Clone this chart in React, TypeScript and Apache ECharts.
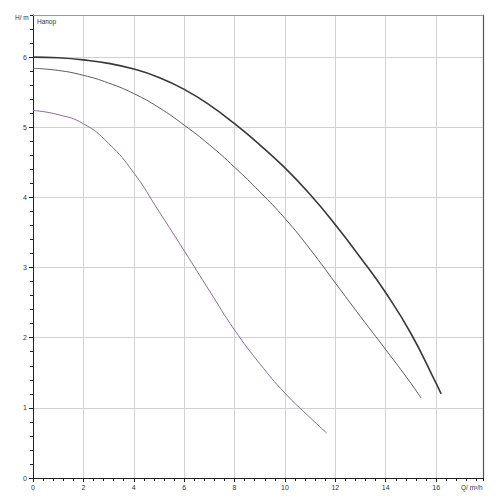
import React, { useEffect, useRef } from "react";
import * as echarts from "echarts";

// Flow Q (m³/h) and head H (m) for the three pump curves
const topQ = [0, 1, 2, 3, 4, 5, 6, 7, 8, 9, 10, 11, 12, 13, 14, 15, 16, 16.2];
const topH = [6.0, 5.99, 5.96, 5.91, 5.83, 5.71, 5.54, 5.32, 5.05, 4.75, 4.42, 4.04, 3.61, 3.14, 2.64, 2.06, 1.35, 1.2];

const midQ = [0, 1, 2, 3, 4, 5, 6, 7, 8, 9, 10, 11, 12, 13, 14, 15, 15.4];
const midH = [5.84, 5.81, 5.74, 5.63, 5.48, 5.28, 5.03, 4.75, 4.43, 4.08, 3.7, 3.26, 2.78, 2.3, 1.83, 1.35, 1.14];

const lowQ = [0, 1, 2, 3, 4, 5, 6, 7, 8, 9, 10, 11, 11.66];
const lowH = [5.24, 5.18, 5.05, 4.77, 4.35, 3.8, 3.24, 2.67, 2.11, 1.63, 1.21, 0.86, 0.64];

const xMin = 0;
const xMax = 17.86;
const yMin = 0;
const yMax = 6.6;

const yTitle = "H/ m";
const curveTitle = "Напор";
const xTitle = "Q/ m³/h";

const pairs = (q: number[], h: number[]) => q.map((v, i) => [v, h[i]]);

export default function App() {
  const ref = useRef<HTMLDivElement>(null);
  useEffect(() => {
    if (!ref.current) return;
    const chart = echarts.init(ref.current, null, { renderer: "svg" });
    const font = "Liberation Sans, Arial, sans-serif";
    const labelStyle = { fontSize: 7, color: "#333", fontFamily: font };
    chart.setOption({
      animation: false,
      backgroundColor: "#fff",
      grid: { left: 33, right: 17, top: 15, bottom: 22, containLabel: false },
      xAxis: [
        {
          type: "value",
          min: xMin,
          max: xMax,
          interval: 2,
          position: "bottom",
          axisLine: { show: true, onZero: false, lineStyle: { color: "#222", width: 1 } },
          axisTick: { show: true, length: 4, lineStyle: { color: "#222" } },
          axisLabel: { ...labelStyle, margin: 6, showMaxLabel: false },
          splitLine: { show: true, lineStyle: { color: "#d2d2d2", width: 1 } },
        },
        {
          type: "value",
          min: xMin,
          max: xMax,
          interval: 0.4,
          position: "bottom",
          axisLine: { show: false },
          axisTick: { show: true, length: 3, lineStyle: { color: "#222" } },
          axisLabel: { show: false },
          splitLine: { show: false },
        },
        {
          type: "value",
          min: xMin,
          max: xMax,
          position: "top",
          axisLine: { show: true, onZero: false, lineStyle: { color: "#9a9a9a", width: 1 } },
          axisTick: { show: false },
          axisLabel: { show: false },
          splitLine: { show: false },
        },
      ],
      yAxis: [
        {
          type: "value",
          min: yMin,
          max: yMax,
          interval: 1,
          position: "left",
          axisLine: { show: true, onZero: false, lineStyle: { color: "#222", width: 1 } },
          axisTick: { show: true, length: 4, lineStyle: { color: "#222" } },
          axisLabel: { ...labelStyle, margin: 6, showMaxLabel: false },
          splitLine: { show: true, lineStyle: { color: "#d2d2d2", width: 1 } },
        },
        {
          type: "value",
          min: yMin,
          max: yMax,
          interval: 0.2,
          position: "left",
          axisLine: { show: false },
          axisTick: { show: true, length: 3, lineStyle: { color: "#222" } },
          axisLabel: { show: false },
          splitLine: { show: false },
        },
        {
          type: "value",
          min: yMin,
          max: yMax,
          position: "right",
          axisLine: { show: true, onZero: false, lineStyle: { color: "#555", width: 1.2 } },
          axisTick: { show: false },
          axisLabel: { show: false },
          splitLine: { show: false },
        },
      ],
      graphic: [
        { type: "text", left: 15, top: 14, style: { text: yTitle, fontSize: 6.5, fill: "#333", fontFamily: font } },
        { type: "text", left: 37, top: 18, style: { text: curveTitle, fontSize: 6.5, fill: "#333", fontFamily: font } },
        { type: "text", left: 461, top: 484, style: { text: xTitle, fontSize: 6.5, fill: "#333", fontFamily: font } },
      ],
      series: [
        {
          type: "line",
          data: pairs(lowQ, lowH),
          smooth: 0.5,
          showSymbol: false,
          lineStyle: { color: "#8a6a96", width: 1 },
          z: 3,
        },
        {
          type: "line",
          data: pairs(midQ, midH),
          smooth: 0.5,
          showSymbol: false,
          lineStyle: { color: "#5e5864", width: 1 },
          z: 4,
        },
        {
          type: "line",
          data: pairs(topQ, topH),
          smooth: 0.5,
          showSymbol: false,
          lineStyle: { color: "#383838", width: 1.6 },
          z: 5,
        },
      ],
    });
    return () => chart.dispose();
  }, []);
  return (
    <div
      ref={ref}
      style={{ position: "fixed", left: 0, top: 0, width: 500, height: 500, background: "#fff" }}
    />
  );
}
